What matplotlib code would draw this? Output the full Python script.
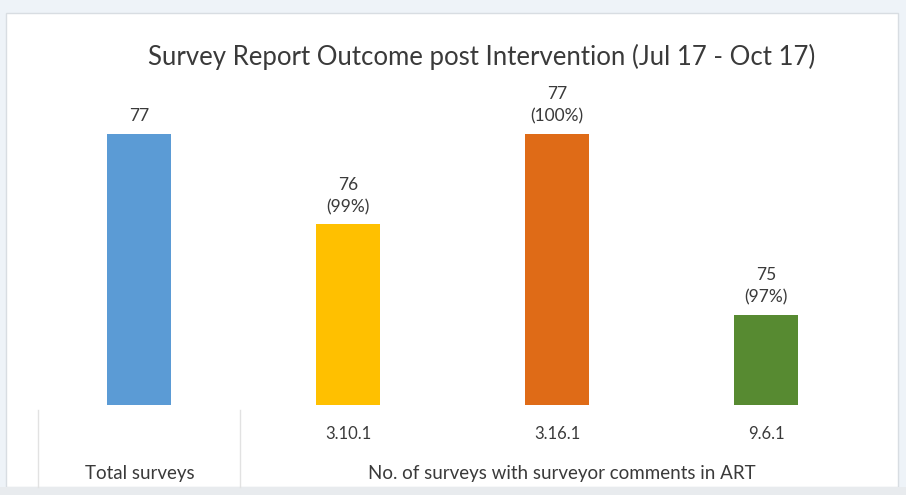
import matplotlib.pyplot as plt
from matplotlib.patches import Rectangle
from matplotlib.lines import Line2D

plt.rcParams['font.family'] = ['Lato', 'DejaVu Sans']

categories = ['Total surveys', '3.10.1', '3.16.1', '9.6.1']
values = [77, 76, 77, 75]
labels = ['77', '76\n(99%)', '77\n(100%)', '75\n(97%)']
colors = ['#5b9bd5', '#ffc000', '#df6b17', '#578a31']
group_labels = ['Total surveys', 'No. of surveys with surveyor comments in ART']

W, H = 906, 495
fig = plt.figure(figsize=(W / 100, H / 100), dpi=100, facecolor='#eef3f8')

# white panel and grey strip at the bottom
fig.add_artist(Rectangle((6 / W, 1 - 487 / H), 892 / W, 474 / H,
                         transform=fig.transFigure, facecolor='white',
                         edgecolor='#d8dde2', lw=1, zorder=0))
fig.add_artist(Rectangle((0, 0), 1, 1 - 487 / H, transform=fig.transFigure,
                         facecolor='#e8ebee', edgecolor='none', zorder=0))

ax = fig.add_axes([34.5 / W, 1 - 405 / H, 836 / W, 315 / H])
ax.set_facecolor('none')
x = range(len(values))
ax.bar(x, [v - 74 for v in values], bottom=74, width=0.31, color=colors)
ax.set_xlim(-0.5, 3.5)
ax.set_ylim(74, 74 + 315 / 90.5)
for xi, v, lab in zip(x, values, labels):
    ax.text(xi, v + 0.1, lab, ha='center', va='bottom', fontsize=12.5,
            color='#3a3a3a', linespacing=1.45)
ax.axis('off')

fig.text(482 / W, 1 - 57 / H, 'Survey Report Outcome post Intervention (Jul 17 - Oct 17)',
         ha='center', va='center', fontsize=18.5, color='#3a3a3a')

# category axis labels
for xi, cat in zip(x, categories):
    if xi == 0:
        continue
    px = 139 + 209 * xi
    fig.text(px / W, 1 - 434 / H, cat, ha='center', va='center',
             fontsize=12, color='#3a3a3a')
fig.text(140 / W, 1 - 474 / H, group_labels[0], ha='center', va='center',
         fontsize=13.5, color='#3a3a3a')
fig.text(562 / W, 1 - 474 / H, group_labels[1], ha='center', va='center',
         fontsize=13.5, color='#3a3a3a')

for px in [38, 240]:
    fig.add_artist(Line2D([px / W, px / W], [1 - 410 / H, 1 - 487 / H],
                          transform=fig.transFigure, color='#e2e2e2', lw=1))

fig.savefig('out.png', dpi=100, facecolor=fig.get_facecolor())
